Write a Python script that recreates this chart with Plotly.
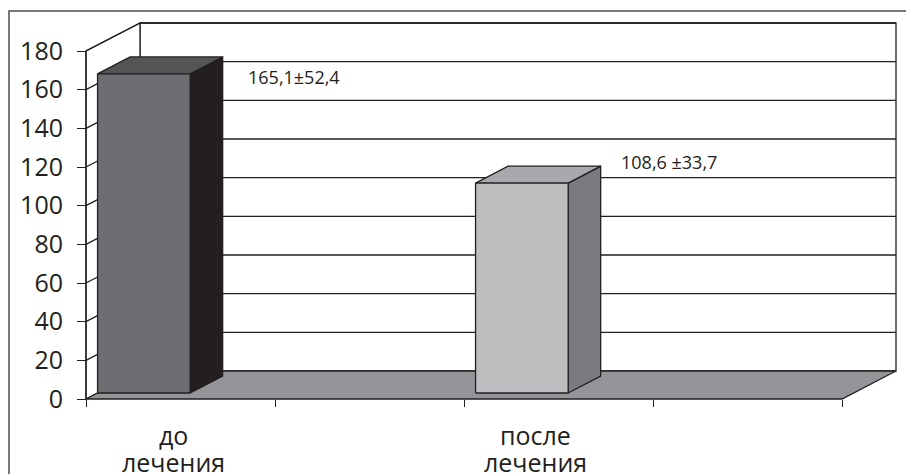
import plotly.graph_objects as go

# ---- data -------------------------------------------------------------
categories = ["до лечения", "после лечения"]
values = [165.1, 108.6]
value_labels = ["165,1±52,4", "108,6 ±33,7"]
slots = [0, 2]                      # category slot of each bar (4 slots on the axis)
y_ticks = [0, 20, 40, 60, 80, 100, 120, 140, 160, 180]

# ---- geometry of the pseudo-3D box ------------------------------------
W, H = 906, 474
SLOT_PX = 189.0                     # pixel width of one category slot
X0_PX = 180.5                       # pixel x of slot 0 centre
Y0_PX = 399.0                       # pixel y of value 0 on the front plane
PX_PER_UNIT = 348.0 / 180.0         # pixels per value unit
DEPTH_PX = (54.0, -28.0)            # depth vector of the box in pixels

def xu(px):
    return (px - X0_PX) / SLOT_PX

def yu(py):
    return (Y0_PX - py) / PX_PER_UNIT

DX = DEPTH_PX[0] / SLOT_PX
DY = -DEPTH_PX[1] / PX_PER_UNIT
X_LEFT, X_RIGHT = -0.5, 3.5
V_MAX = 180

def proj(x, v, z):
    return x + z * DX, v + z * DY

BAR_W = 0.49
Z_FRONT, Z_BACK = 0.214, 0.816
DARK = "#231f20"
LW = 1.3

front_cols = ["#6d6e71", "#bcbec0"]
top_cols = ["#545557", "#a7a9ac"]
side_cols = ["#231f20", "#7a7b7e"]

def path(points):
    return "M " + " L ".join(f"{x},{y}" for x, y in points) + " Z"

shapes = []
# outer frame
shapes.append(dict(type="rect", xref="paper", yref="paper",
                   x0=9 / W, x1=1.05, y0=-0.05, y1=1 - 11 / H,
                   line=dict(color="#4d4d4f", width=1.5), fillcolor="rgba(0,0,0,0)",
                   layer="below"))
# back wall
bw = [proj(X_LEFT, 0, 1), proj(X_RIGHT, 0, 1), proj(X_RIGHT, V_MAX, 1), proj(X_LEFT, V_MAX, 1)]
shapes.append(dict(type="path", xref="x", yref="y", path=path(bw),
                   fillcolor="white", line=dict(color=DARK, width=LW), layer="below"))
# left wall
lw = [proj(X_LEFT, 0, 0), proj(X_LEFT, 0, 1), proj(X_LEFT, V_MAX, 1), proj(X_LEFT, V_MAX, 0)]
shapes.append(dict(type="path", xref="x", yref="y", path=path(lw),
                   fillcolor="white", line=dict(color=DARK, width=LW), layer="below"))
# gridlines on back and left walls
for v in y_ticks[1:]:
    a, b = proj(X_LEFT, v, 1), proj(X_RIGHT, v, 1)
    shapes.append(dict(type="line", xref="x", yref="y", x0=a[0], y0=a[1], x1=b[0], y1=b[1],
                       line=dict(color=DARK, width=LW), layer="below"))
    c = proj(X_LEFT, v, 0)
    shapes.append(dict(type="line", xref="x", yref="y", x0=c[0], y0=c[1], x1=a[0], y1=a[1],
                       line=dict(color=DARK, width=LW), layer="below"))
# floor
fl = [proj(X_LEFT, 0, 0), proj(X_RIGHT, 0, 0), proj(X_RIGHT, 0, 1), proj(X_LEFT, 0, 1)]
shapes.append(dict(type="path", xref="x", yref="y", path=path(fl),
                   fillcolor="#939598", line=dict(color=DARK, width=LW), layer="below"))
# value axis line
shapes.append(dict(type="line", xref="x", yref="y", x0=X_LEFT, y0=0, x1=X_LEFT, y1=V_MAX,
                   line=dict(color=DARK, width=LW), layer="below"))

fig = go.Figure()

def face(points, color):
    xs = [p[0] for p in points] + [points[0][0]]
    ys = [p[1] for p in points] + [points[0][1]]
    fig.add_trace(go.Scatter(x=xs, y=ys, mode="lines", fill="toself", fillcolor=color,
                             line=dict(color=DARK, width=LW), hoverinfo="skip",
                             showlegend=False))

for i, (s, v) in enumerate(zip(slots, values)):
    xl = s - 0.5
    xr = xl + BAR_W
    side = [proj(xr, 0, Z_FRONT), proj(xr, 0, Z_BACK), proj(xr, v, Z_BACK), proj(xr, v, Z_FRONT)]
    top = [proj(xl, v, Z_FRONT), proj(xr, v, Z_FRONT), proj(xr, v, Z_BACK), proj(xl, v, Z_BACK)]
    front = [proj(xl, 0, Z_FRONT), proj(xr, 0, Z_FRONT), proj(xr, v, Z_FRONT), proj(xl, v, Z_FRONT)]
    face(side, side_cols[i])
    face(top, top_cols[i])
    face(front, front_cols[i])

FONT = "Open Sans"
annotations = []
# value labels (left edge / vertical centre in pixels)
value_label_px = [(246, 77), (619, 162)]
for txt, (px, py) in zip(value_labels, value_label_px):
    annotations.append(dict(x=xu(px), y=yu(py), xref="x", yref="y", text=txt,
                            showarrow=False, xanchor="left", yanchor="middle",
                            font=dict(family=FONT, size=18, color=DARK)))
# category labels, two lines each
cat_label_px = [173, 535]
for name, px in zip(categories, cat_label_px):
    for k, line in enumerate(name.split(" ")):
        annotations.append(dict(x=xu(px), y=yu(435 + 26.6 * k), xref="x", yref="y",
                                text=line, showarrow=False, xanchor="center",
                                yanchor="middle",
                                font=dict(family=FONT, size=25, color=DARK)))

fig.update_layout(
    width=W, height=H, autosize=False,
    margin=dict(l=0, r=0, t=0, b=0),
    paper_bgcolor="white", plot_bgcolor="white",
    shapes=shapes, annotations=annotations,
    xaxis=dict(range=[xu(0), xu(W)], anchor="free", position=(H - Y0_PX) / H,
               tickmode="array", tickvals=[X_LEFT + k for k in range(5)],
               ticks="outside", ticklen=7, tickwidth=LW, tickcolor=DARK,
               showticklabels=False, showgrid=False, zeroline=False, showline=False,
               fixedrange=True),
    yaxis=dict(range=[yu(H), yu(0)], anchor="free", position=(X0_PX - SLOT_PX / 2) / W,
               tickmode="array", tickvals=y_ticks, ticks="outside", ticklen=9,
               tickwidth=LW, tickcolor=DARK, ticklabelstandoff=9,
               tickfont=dict(family=FONT, size=25, color=DARK),
               showgrid=False, zeroline=False, showline=False, fixedrange=True),
)

fig.write_html("out.html")
